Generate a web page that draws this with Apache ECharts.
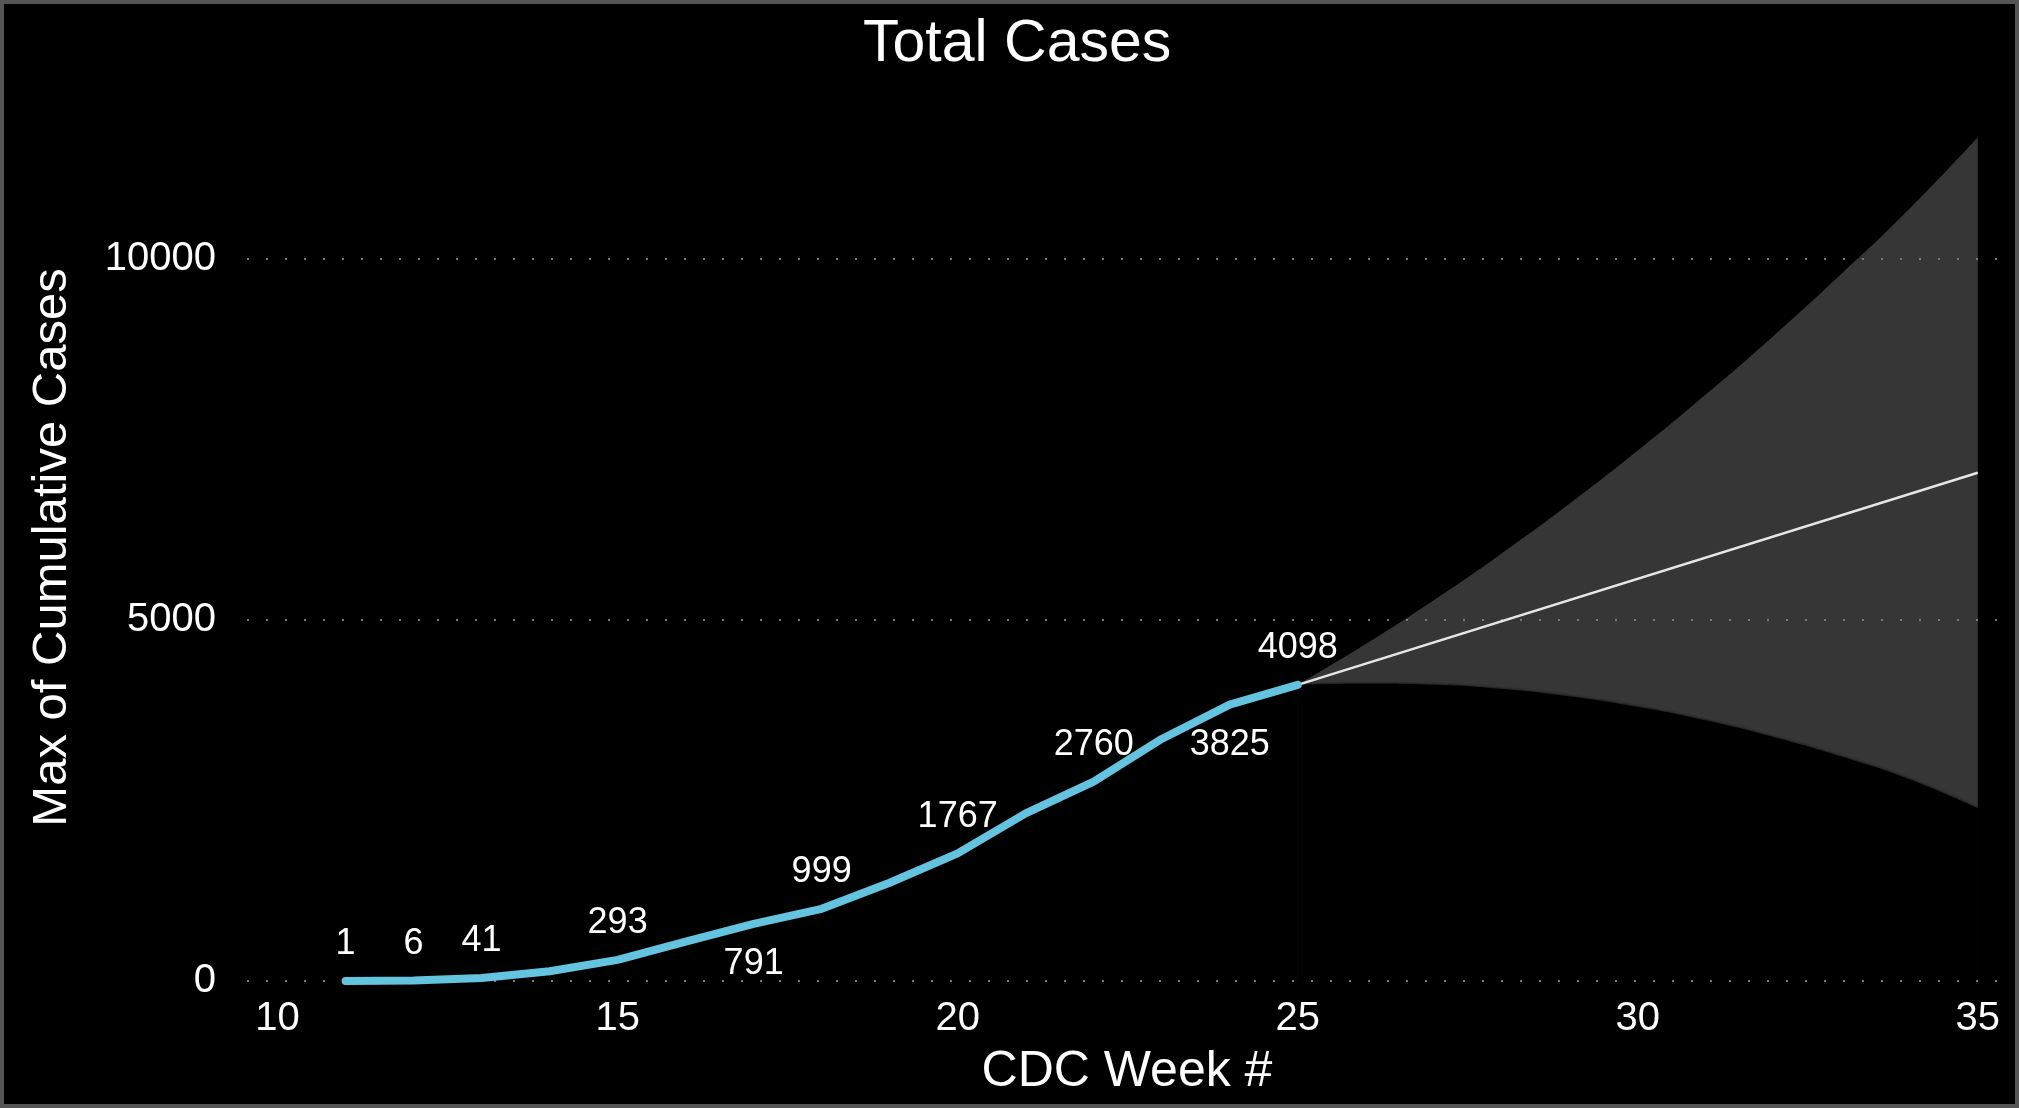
<!DOCTYPE html>
<html>
<head>
<meta charset="utf-8">
<title>Total Cases</title>
<script src="https://cdn.jsdelivr.net/npm/echarts@6/dist/echarts.min.js"></script>
<style>
  html, body { margin: 0; padding: 0; background: #000; }
  #wrap { position: relative; width: 2019px; height: 1108px; }
  #chart { width: 2019px; height: 1108px; }
  #frame {
    position: absolute; left: 0; top: 0; right: 0; bottom: 0;
    border: 4px solid #555; pointer-events: none;
  }
</style>
</head>
<body>
<div id="wrap">
  <div id="chart"></div>
  <div id="frame"></div>
</div>
<script>
// observed cumulative cases per CDC week
const weeks = [11, 12, 13, 14, 15, 16, 17, 18, 19, 20, 21, 22, 23, 24, 25];
const cases = [1, 6, 41, 135, 293, 545, 791, 999, 1360, 1767, 2320, 2760, 3350, 3825, 4098];
// which weeks get their label under the line, and which get none
const labelBelow = [17, 24];
const labelHidden = [14, 16, 19, 21, 23];

// forecast line + confidence band
const forecastWeeks = [25, 35];
const forecastCases = [4098, 7034];
const bandWeeks = [25, 26, 27, 28, 29, 30, 31, 32, 33, 34, 35];
const bandUpper = [4098, 4663, 5269, 5918, 6608, 7341, 8116, 8932, 9791, 10691, 11679];
const bandLower = [4098, 4115, 4100, 4040, 3936, 3791, 3604, 3374, 3103, 2789, 2389];

const xTicks = [10, 15, 20, 25, 30, 35];
const yTicks = [0, 5000, 10000];

const FONT = "'Liberation Sans', Arial, sans-serif";

const chart = echarts.init(document.getElementById('chart'));

const lineData = weeks.map((w, i) => {
    const item = { value: [w, cases[i]] };
    if (labelHidden.includes(w)) {
        item.label = { show: false };
    } else if (labelBelow.includes(w)) {
        item.label = { position: 'bottom', distance: 22 };
    }
    return item;
});

const option = {
    backgroundColor: '#000',
    animation: false,
    title: {
        text: 'Total Cases',
        left: 863,
        top: 10,
        padding: [5, 0, 5, 0],
        textStyle: { color: '#fff', fontFamily: FONT, fontSize: 59, fontWeight: 'normal' }
    },
    grid: {
        left: 247,
        right: 12,
        top: 114,
        bottom: 127,
        containLabel: false,
        outerBoundsMode: 'none'
    },
    xAxis: {
        type: 'value',
        min: 9.55,
        max: 35.43,
        splitNumber: 5,
        name: 'CDC Week #',
        nameLocation: 'middle',
        nameGap: 66,
        nameTextStyle: { color: '#fff', fontFamily: FONT, fontSize: 50 },
        axisLine: { show: false },
        axisTick: { show: false },
        splitLine: { show: false },
        axisLabel: {
            color: '#fff',
            fontFamily: FONT,
            fontSize: 40,
            margin: 18,
            formatter: v => (xTicks.includes(v) ? String(v) : '')
        }
    },
    yAxis: {
        type: 'value',
        min: 0,
        max: 12000,
        interval: 5000,
        z: 1.5,
        name: 'Max of Cumulative Cases',
        nameLocation: 'middle',
        nameGap: 170,
        nameTextStyle: { color: '#fff', fontFamily: FONT, fontSize: 49 },
        axisLine: { show: false },
        axisTick: { show: false },
        axisLabel: {
            color: '#fff',
            fontFamily: FONT,
            fontSize: 40,
            margin: 31,
            showMaxLabel: false,
            formatter: v => (yTicks.includes(v) ? String(v) : '')
        },
        splitLine: {
            show: true,
            showMaxLine: false,
            lineStyle: { color: '#7a7a7a', width: 2, type: [2, 17] }
        }
    },
    series: [
        {
            // upper bound, grey fill down to the axis
            name: 'upper',
            type: 'line',
            z: 1,
            smooth: true,
            symbol: 'none',
            silent: true,
            lineStyle: { width: 0, opacity: 0 },
            areaStyle: { color: '#363636', opacity: 1, origin: 'start' },
            data: bandWeeks.map((w, i) => [w, bandUpper[i]])
        },
        {
            // lower bound, black fill cuts the band out underneath
            name: 'lower',
            type: 'line',
            z: 1.2,
            smooth: true,
            symbol: 'none',
            silent: true,
            lineStyle: { width: 0, opacity: 0 },
            areaStyle: { color: '#000', opacity: 1, origin: 'start', shadowColor: '#000', shadowBlur: 3 },
            data: bandWeeks.map((w, i) => [w, bandLower[i]])
        },
        {
            name: 'forecast',
            type: 'line',
            z: 2,
            symbol: 'none',
            lineStyle: { color: '#e6e6e6', width: 2.5 },
            data: forecastWeeks.map((w, i) => [w, forecastCases[i]])
        },
        {
            name: 'Max of Cumulative Cases',
            type: 'line',
            z: 3,
            symbol: 'circle',
            symbolSize: 1,
            showSymbol: true,
            itemStyle: { color: '#64c3df' },
            lineStyle: { color: '#64c3df', width: 8, cap: 'round', join: 'round' },
            label: {
                show: true,
                position: 'top',
                distance: 18,
                color: '#fff',
                fontFamily: FONT,
                fontSize: 36
            },
            labelLayout: { hideOverlap: false },
            data: lineData
        }
    ]
};

chart.setOption(option);
</script>
</body>
</html>
